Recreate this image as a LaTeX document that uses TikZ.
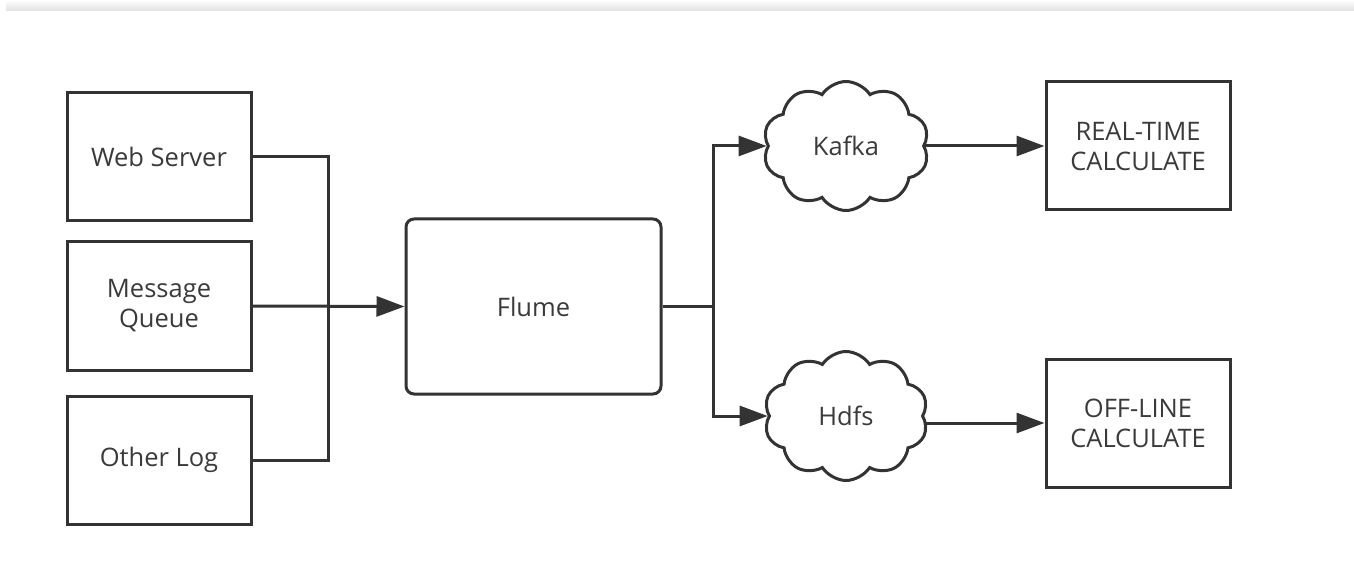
\documentclass[tikz,border=0pt]{standalone}
\usepackage{fontspec}
\setmainfont{Open Sans}
\usetikzlibrary{arrows.meta,shapes.symbols}
\definecolor{ln}{HTML}{333333}
\definecolor{tx}{HTML}{3A3A3A}
\tikzset{
  box/.style={draw=ln, line width=3pt, rectangle, text=tx, align=center,
    font=\fontsize{25.5}{30}\selectfont, inner sep=0pt},
  flumebox/.style={box, rounded corners=8pt},
  cloudnode/.style={draw=ln, line width=3pt, cloud, cloud puffs=10, cloud puff arc=115,
    cloud ignores aspect, text=tx, font=\fontsize{25.5}{30}\selectfont, inner sep=0pt},
  conn/.style={draw=ln, line width=3pt},
  arr/.style={conn, -{Triangle[length=28pt,width=20pt]}}
}
\begin{document}
\begin{tikzpicture}[x=1pt,y=-1pt]
\useasboundingbox (0,0) rectangle (1354,569);
\fill[white] (0,0) rectangle (1354,569);
\shade[top color=white, bottom color=black!12] (6,0) rectangle (1354,11);

\node[box, minimum width=184pt, minimum height=128pt] (ws) at (159,156.5) {Web Server};
\node[box, minimum width=184pt, minimum height=128pt] (mq) at (159,306) {Message\\Queue};
\node[box, minimum width=184pt, minimum height=128pt] (ol) at (159,460) {Other Log};
\node[flumebox, minimum width=255pt, minimum height=175pt] (flume) at (533.5,306.5) {Flume};
\node[cloudnode, minimum width=166pt, minimum height=129pt] (kafka) at (846,146) {Kafka};
\node[cloudnode, minimum width=164pt, minimum height=129pt] (hdfs) at (846,416) {Hdfs};
\node[box, minimum width=184pt, minimum height=128pt] (rt) at (1138,146) {REAL-TIME\\CALCULATE};
\node[box, minimum width=184pt, minimum height=128pt] (off) at (1138,423) {OFF-LINE\\CALCULATE};

\coordinate (jl) at (328,306);
\coordinate (jr) at (713,306.5);

\draw[conn] (ws.east) -| (jl) |- (ol.east);
\draw[arr] (mq.east) -- (flume.west);
\draw[conn] (flume.east) -- (jr);
\draw[arr] (jr) |- (kafka.west);
\draw[arr] (jr) |- (hdfs.west);
\draw[arr] (kafka.east |- rt.west) -- (rt.west);
\draw[arr] (hdfs.east |- off.west) -- (off.west);
\end{tikzpicture}
\end{document}
